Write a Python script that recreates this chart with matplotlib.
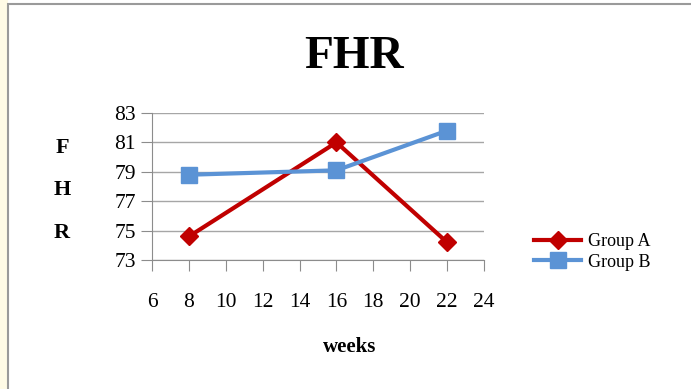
import matplotlib.pyplot as plt
from matplotlib.patches import Rectangle

weeks = [8, 16, 22]
group_a = [74.6, 81.0, 74.2]
group_b = [78.8, 79.1, 81.8]
x_ticks = [6, 8, 10, 12, 14, 16, 18, 20, 22, 24]
y_ticks = [73, 75, 77, 79, 81, 83]

plt.rcParams["font.family"] = ["Liberation Serif", "DejaVu Serif"]

fig = plt.figure(figsize=(6.91, 3.89), dpi=100)
fig.patch.set_facecolor("white")
# cream strip and grey frame of the chart area
fig.add_artist(Rectangle((0, 0), 8 / 691, 1, transform=fig.transFigure,
                         facecolor="#fffbe6", edgecolor="none", zorder=0))
fig.add_artist(Rectangle((8 / 691, -0.01), 1.0, 1 - 4 / 389 + 0.01, transform=fig.transFigure,
                         facecolor="none", edgecolor="#9a9a9a", linewidth=1.5, zorder=1))

ax = fig.add_axes([152 / 691, 1 - 260 / 389, (484 - 152) / 691, (260 - 113) / 389])
ax.plot(weeks, group_a, color="#c00000", linewidth=3, marker="D", markersize=9, label="Group A")
ax.plot(weeks, group_b, color="#5b93d5", linewidth=3, marker="s", markersize=12, label="Group B")

ax.set_xlim(6, 24)
ax.set_ylim(73, 83)
ax.set_xticks(x_ticks)
ax.set_yticks(y_ticks)
ax.yaxis.grid(True, color="#a6a6a6", linewidth=1)
ax.set_axisbelow(True)
for s in ["top", "right"]:
    ax.spines[s].set_visible(False)
ax.spines["left"].set_color("#8c8c8c")
ax.spines["bottom"].set_color("#8c8c8c")
ax.tick_params(axis="both", colors="#8c8c8c", labelcolor="black", labelsize=15.5, length=8)
ax.tick_params(axis="x", pad=16)

fig.text(354 / 691, 1 - 57 / 389, "FHR", ha="center", va="center", fontsize=34, fontweight="bold")
fig.text(350 / 691, 1 - 347 / 389, "weeks", ha="center", va="center", fontsize=15, fontweight="bold")
for letter, y in zip("FHR", [148, 190, 233]):
    fig.text(62 / 691, 1 - y / 389, letter, ha="center", va="center", fontsize=16, fontweight="bold")

ax.legend(loc="center left", bbox_to_anchor=(518 / 691, 1 - 252 / 389), bbox_transform=fig.transFigure,
          frameon=False, fontsize=13, handlelength=2.6, labelspacing=0.2, handletextpad=0.4)

fig.savefig("out.png", dpi=100)
